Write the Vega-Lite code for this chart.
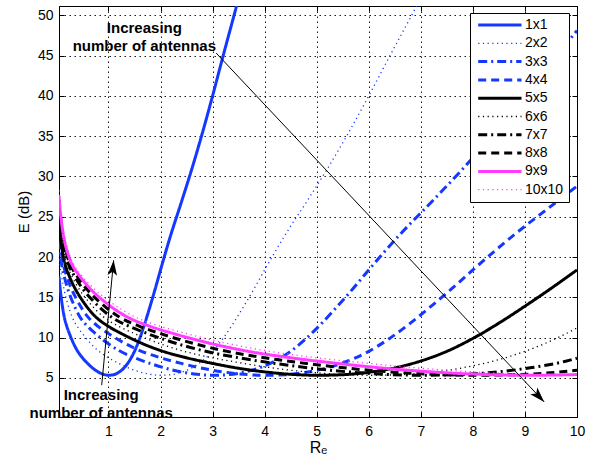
{
  "$schema": "https://vega.github.io/schema/vega-lite/v6.json",
  "width": 518,
  "height": 411,
  "autosize": {"type": "none"},
  "padding": {"left": 59, "top": 6, "right": 21, "bottom": 45},
  "background": "white",
  "config": {
    "font": "Liberation Sans",
    "view": {"stroke": "black", "strokeWidth": 1},
    "axis": {
      "labelFont": "Liberation Sans",
      "labelFontSize": 14,
      "labelColor": "black",
      "titleFont": "Liberation Sans",
      "titleColor": "black",
      "titleFontWeight": "normal",
      "tickColor": "black",
      "domainColor": "black",
      "labelFlush": false,
      "labelOverlap": false,
      "grid": true,
      "gridColor": "black",
      "gridDash": [1.5, 3.5],
      "gridOpacity": 0.9,
      "gridWidth": 1
    }
  },
  "datasets": {
    "curves": [
      {"series": "1x1", "R": 0.05, "E": 17.6}, {"series": "1x1", "R": 0.075, "E": 15.9}, {"series": "1x1", "R": 0.1, "E": 14.6},
      {"series": "1x1", "R": 0.15, "E": 12.6}, {"series": "1x1", "R": 0.2, "E": 11.4}, {"series": "1x1", "R": 0.25, "E": 10.5},
      {"series": "1x1", "R": 0.3, "E": 9.7}, {"series": "1x1", "R": 0.4, "E": 8.4}, {"series": "1x1", "R": 0.5, "E": 7.5},
      {"series": "1x1", "R": 0.6, "E": 6.8}, {"series": "1x1", "R": 0.7, "E": 6.2}, {"series": "1x1", "R": 0.8, "E": 5.75},
      {"series": "1x1", "R": 0.9, "E": 5.45}, {"series": "1x1", "R": 1.0, "E": 5.33}, {"series": "1x1", "R": 1.1, "E": 5.4},
      {"series": "1x1", "R": 1.2, "E": 5.7}, {"series": "1x1", "R": 1.3, "E": 6.25}, {"series": "1x1", "R": 1.4, "E": 7.1},
      {"series": "1x1", "R": 1.5, "E": 8.3}, {"series": "1x1", "R": 1.6, "E": 9.9}, {"series": "1x1", "R": 1.7, "E": 11.8},
      {"series": "1x1", "R": 1.8, "E": 13.9}, {"series": "1x1", "R": 1.9, "E": 16.1}, {"series": "1x1", "R": 2.0, "E": 18.4},
      {"series": "1x1", "R": 2.2, "E": 22.8}, {"series": "1x1", "R": 2.4, "E": 26.8}, {"series": "1x1", "R": 2.6, "E": 30.9},
      {"series": "1x1", "R": 2.8, "E": 35.3}, {"series": "1x1", "R": 3.0, "E": 40.0}, {"series": "1x1", "R": 3.2, "E": 44.9},
      {"series": "1x1", "R": 3.4, "E": 49.7}, {"series": "1x1", "R": 3.5, "E": 52.1},

      {"series": "2x2", "R": 0.05, "E": 20.3}, {"series": "2x2", "R": 0.07, "E": 18.9}, {"series": "2x2", "R": 0.1, "E": 17.6},
      {"series": "2x2", "R": 0.15, "E": 15.9}, {"series": "2x2", "R": 0.2, "E": 14.6}, {"series": "2x2", "R": 0.3, "E": 12.6},
      {"series": "2x2", "R": 0.4, "E": 11.4}, {"series": "2x2", "R": 0.5, "E": 10.5}, {"series": "2x2", "R": 0.6, "E": 9.7},
      {"series": "2x2", "R": 0.8, "E": 8.4}, {"series": "2x2", "R": 1.0, "E": 7.5}, {"series": "2x2", "R": 1.2, "E": 6.8},
      {"series": "2x2", "R": 1.4, "E": 6.2}, {"series": "2x2", "R": 1.6, "E": 5.75}, {"series": "2x2", "R": 1.8, "E": 5.45},
      {"series": "2x2", "R": 2.0, "E": 5.33}, {"series": "2x2", "R": 2.2, "E": 5.4}, {"series": "2x2", "R": 2.4, "E": 5.7},
      {"series": "2x2", "R": 2.6, "E": 6.25}, {"series": "2x2", "R": 2.8, "E": 7.1}, {"series": "2x2", "R": 3.0, "E": 8.3},
      {"series": "2x2", "R": 3.2, "E": 9.9}, {"series": "2x2", "R": 3.4, "E": 11.8}, {"series": "2x2", "R": 3.6, "E": 13.9},
      {"series": "2x2", "R": 3.8, "E": 16.1}, {"series": "2x2", "R": 4.0, "E": 18.4}, {"series": "2x2", "R": 4.4, "E": 22.8},
      {"series": "2x2", "R": 4.8, "E": 26.8}, {"series": "2x2", "R": 5.2, "E": 30.9}, {"series": "2x2", "R": 5.6, "E": 35.3},
      {"series": "2x2", "R": 6.0, "E": 40.0}, {"series": "2x2", "R": 6.4, "E": 44.9}, {"series": "2x2", "R": 6.8, "E": 49.7},
      {"series": "2x2", "R": 7.0, "E": 52.1},

      {"series": "3x3", "R": 0.05, "E": 22.2}, {"series": "3x3", "R": 0.075, "E": 20.3}, {"series": "3x3", "R": 0.105, "E": 18.9},
      {"series": "3x3", "R": 0.15, "E": 17.6}, {"series": "3x3", "R": 0.225, "E": 15.9}, {"series": "3x3", "R": 0.3, "E": 14.6},
      {"series": "3x3", "R": 0.45, "E": 12.6}, {"series": "3x3", "R": 0.6, "E": 11.4}, {"series": "3x3", "R": 0.75, "E": 10.5},
      {"series": "3x3", "R": 0.9, "E": 9.7}, {"series": "3x3", "R": 1.2, "E": 8.4}, {"series": "3x3", "R": 1.5, "E": 7.5},
      {"series": "3x3", "R": 1.8, "E": 6.8}, {"series": "3x3", "R": 2.1, "E": 6.2}, {"series": "3x3", "R": 2.4, "E": 5.75},
      {"series": "3x3", "R": 2.7, "E": 5.45}, {"series": "3x3", "R": 3.0, "E": 5.33}, {"series": "3x3", "R": 3.3, "E": 5.4},
      {"series": "3x3", "R": 3.6, "E": 5.7}, {"series": "3x3", "R": 3.9, "E": 6.25}, {"series": "3x3", "R": 4.2, "E": 7.1},
      {"series": "3x3", "R": 4.5, "E": 8.3}, {"series": "3x3", "R": 4.8, "E": 9.9}, {"series": "3x3", "R": 5.1, "E": 11.8},
      {"series": "3x3", "R": 5.4, "E": 13.9}, {"series": "3x3", "R": 5.7, "E": 16.1}, {"series": "3x3", "R": 6.0, "E": 18.4},
      {"series": "3x3", "R": 6.6, "E": 22.8}, {"series": "3x3", "R": 7.2, "E": 26.8}, {"series": "3x3", "R": 7.8, "E": 30.9},
      {"series": "3x3", "R": 8.4, "E": 35.3}, {"series": "3x3", "R": 9.0, "E": 40.0}, {"series": "3x3", "R": 9.6, "E": 44.9},
      {"series": "3x3", "R": 10.0, "E": 48.1},

      {"series": "4x4", "R": 0.05, "E": 23.6}, {"series": "4x4", "R": 0.067, "E": 22.2}, {"series": "4x4", "R": 0.1, "E": 20.3},
      {"series": "4x4", "R": 0.14, "E": 18.9}, {"series": "4x4", "R": 0.2, "E": 17.6}, {"series": "4x4", "R": 0.3, "E": 15.9},
      {"series": "4x4", "R": 0.4, "E": 14.6}, {"series": "4x4", "R": 0.6, "E": 12.6}, {"series": "4x4", "R": 0.8, "E": 11.4},
      {"series": "4x4", "R": 1.0, "E": 10.5}, {"series": "4x4", "R": 1.2, "E": 9.7}, {"series": "4x4", "R": 1.6, "E": 8.4},
      {"series": "4x4", "R": 2.0, "E": 7.5}, {"series": "4x4", "R": 2.4, "E": 6.8}, {"series": "4x4", "R": 2.8, "E": 6.2},
      {"series": "4x4", "R": 3.2, "E": 5.75}, {"series": "4x4", "R": 3.6, "E": 5.45}, {"series": "4x4", "R": 4.0, "E": 5.33},
      {"series": "4x4", "R": 4.4, "E": 5.4}, {"series": "4x4", "R": 4.8, "E": 5.7}, {"series": "4x4", "R": 5.2, "E": 6.25},
      {"series": "4x4", "R": 5.6, "E": 7.1}, {"series": "4x4", "R": 6.0, "E": 8.3}, {"series": "4x4", "R": 6.4, "E": 9.9},
      {"series": "4x4", "R": 6.8, "E": 11.8}, {"series": "4x4", "R": 7.2, "E": 13.9}, {"series": "4x4", "R": 7.6, "E": 16.1},
      {"series": "4x4", "R": 8.0, "E": 18.4}, {"series": "4x4", "R": 8.8, "E": 22.8}, {"series": "4x4", "R": 9.6, "E": 26.8},
      {"series": "4x4", "R": 10.0, "E": 28.8},

      {"series": "5x5", "R": 0.05, "E": 24.8}, {"series": "5x5", "R": 0.0625, "E": 23.6}, {"series": "5x5", "R": 0.083, "E": 22.2},
      {"series": "5x5", "R": 0.125, "E": 20.3}, {"series": "5x5", "R": 0.175, "E": 18.9}, {"series": "5x5", "R": 0.25, "E": 17.6},
      {"series": "5x5", "R": 0.375, "E": 15.9}, {"series": "5x5", "R": 0.5, "E": 14.6}, {"series": "5x5", "R": 0.75, "E": 12.6},
      {"series": "5x5", "R": 1.0, "E": 11.4}, {"series": "5x5", "R": 1.25, "E": 10.5}, {"series": "5x5", "R": 1.5, "E": 9.7},
      {"series": "5x5", "R": 2.0, "E": 8.4}, {"series": "5x5", "R": 2.5, "E": 7.5}, {"series": "5x5", "R": 3.0, "E": 6.8},
      {"series": "5x5", "R": 3.5, "E": 6.2}, {"series": "5x5", "R": 4.0, "E": 5.75}, {"series": "5x5", "R": 4.5, "E": 5.45},
      {"series": "5x5", "R": 5.0, "E": 5.33}, {"series": "5x5", "R": 5.5, "E": 5.4}, {"series": "5x5", "R": 6.0, "E": 5.7},
      {"series": "5x5", "R": 6.5, "E": 6.25}, {"series": "5x5", "R": 7.0, "E": 7.1}, {"series": "5x5", "R": 7.5, "E": 8.3},
      {"series": "5x5", "R": 8.0, "E": 9.9}, {"series": "5x5", "R": 8.5, "E": 11.8}, {"series": "5x5", "R": 9.0, "E": 13.9},
      {"series": "5x5", "R": 9.5, "E": 16.1}, {"series": "5x5", "R": 10.0, "E": 18.4},

      {"series": "6x6", "R": 0.05, "E": 25.6}, {"series": "6x6", "R": 0.06, "E": 24.8}, {"series": "6x6", "R": 0.075, "E": 23.6},
      {"series": "6x6", "R": 0.1, "E": 22.2}, {"series": "6x6", "R": 0.15, "E": 20.3}, {"series": "6x6", "R": 0.21, "E": 18.9},
      {"series": "6x6", "R": 0.3, "E": 17.6}, {"series": "6x6", "R": 0.45, "E": 15.9}, {"series": "6x6", "R": 0.6, "E": 14.6},
      {"series": "6x6", "R": 0.9, "E": 12.6}, {"series": "6x6", "R": 1.2, "E": 11.4}, {"series": "6x6", "R": 1.5, "E": 10.5},
      {"series": "6x6", "R": 1.8, "E": 9.7}, {"series": "6x6", "R": 2.4, "E": 8.4}, {"series": "6x6", "R": 3.0, "E": 7.5},
      {"series": "6x6", "R": 3.6, "E": 6.8}, {"series": "6x6", "R": 4.2, "E": 6.2}, {"series": "6x6", "R": 4.8, "E": 5.75},
      {"series": "6x6", "R": 5.4, "E": 5.45}, {"series": "6x6", "R": 6.0, "E": 5.33}, {"series": "6x6", "R": 6.6, "E": 5.4},
      {"series": "6x6", "R": 7.2, "E": 5.7}, {"series": "6x6", "R": 7.8, "E": 6.25}, {"series": "6x6", "R": 8.4, "E": 7.1},
      {"series": "6x6", "R": 9.0, "E": 8.3}, {"series": "6x6", "R": 9.6, "E": 9.9}, {"series": "6x6", "R": 10.0, "E": 11.2},

      {"series": "7x7", "R": 0.05, "E": 26.4}, {"series": "7x7", "R": 0.058, "E": 25.6}, {"series": "7x7", "R": 0.07, "E": 24.8},
      {"series": "7x7", "R": 0.0875, "E": 23.6}, {"series": "7x7", "R": 0.117, "E": 22.2}, {"series": "7x7", "R": 0.175, "E": 20.3},
      {"series": "7x7", "R": 0.245, "E": 18.9}, {"series": "7x7", "R": 0.35, "E": 17.6}, {"series": "7x7", "R": 0.525, "E": 15.9},
      {"series": "7x7", "R": 0.7, "E": 14.6}, {"series": "7x7", "R": 1.05, "E": 12.6}, {"series": "7x7", "R": 1.4, "E": 11.4},
      {"series": "7x7", "R": 1.75, "E": 10.5}, {"series": "7x7", "R": 2.1, "E": 9.7}, {"series": "7x7", "R": 2.8, "E": 8.4},
      {"series": "7x7", "R": 3.5, "E": 7.5}, {"series": "7x7", "R": 4.2, "E": 6.8}, {"series": "7x7", "R": 4.9, "E": 6.2},
      {"series": "7x7", "R": 5.6, "E": 5.75}, {"series": "7x7", "R": 6.3, "E": 5.45}, {"series": "7x7", "R": 7.0, "E": 5.33},
      {"series": "7x7", "R": 7.7, "E": 5.4}, {"series": "7x7", "R": 8.4, "E": 5.7}, {"series": "7x7", "R": 9.1, "E": 6.25},
      {"series": "7x7", "R": 9.8, "E": 7.1}, {"series": "7x7", "R": 10.0, "E": 7.45},

      {"series": "8x8", "R": 0.05, "E": 27.0}, {"series": "8x8", "R": 0.057, "E": 26.4}, {"series": "8x8", "R": 0.066, "E": 25.6},
      {"series": "8x8", "R": 0.08, "E": 24.8}, {"series": "8x8", "R": 0.1, "E": 23.6}, {"series": "8x8", "R": 0.134, "E": 22.2},
      {"series": "8x8", "R": 0.2, "E": 20.3}, {"series": "8x8", "R": 0.28, "E": 18.9}, {"series": "8x8", "R": 0.4, "E": 17.6},
      {"series": "8x8", "R": 0.6, "E": 15.9}, {"series": "8x8", "R": 0.8, "E": 14.6}, {"series": "8x8", "R": 1.2, "E": 12.6},
      {"series": "8x8", "R": 1.6, "E": 11.4}, {"series": "8x8", "R": 2.0, "E": 10.5}, {"series": "8x8", "R": 2.4, "E": 9.7},
      {"series": "8x8", "R": 3.2, "E": 8.4}, {"series": "8x8", "R": 4.0, "E": 7.5}, {"series": "8x8", "R": 4.8, "E": 6.8},
      {"series": "8x8", "R": 5.6, "E": 6.2}, {"series": "8x8", "R": 6.4, "E": 5.75}, {"series": "8x8", "R": 7.2, "E": 5.45},
      {"series": "8x8", "R": 8.0, "E": 5.33}, {"series": "8x8", "R": 8.8, "E": 5.4}, {"series": "8x8", "R": 9.6, "E": 5.7},
      {"series": "8x8", "R": 10.0, "E": 5.95},

      {"series": "9x9", "R": 0.05, "E": 27.6}, {"series": "9x9", "R": 0.056, "E": 27.0}, {"series": "9x9", "R": 0.064, "E": 26.4},
      {"series": "9x9", "R": 0.075, "E": 25.6}, {"series": "9x9", "R": 0.09, "E": 24.8}, {"series": "9x9", "R": 0.1125, "E": 23.6},
      {"series": "9x9", "R": 0.15, "E": 22.2}, {"series": "9x9", "R": 0.225, "E": 20.3}, {"series": "9x9", "R": 0.315, "E": 18.9},
      {"series": "9x9", "R": 0.45, "E": 17.6}, {"series": "9x9", "R": 0.675, "E": 15.9}, {"series": "9x9", "R": 0.9, "E": 14.6},
      {"series": "9x9", "R": 1.35, "E": 12.6}, {"series": "9x9", "R": 1.8, "E": 11.4}, {"series": "9x9", "R": 2.25, "E": 10.5},
      {"series": "9x9", "R": 2.7, "E": 9.7}, {"series": "9x9", "R": 3.6, "E": 8.4}, {"series": "9x9", "R": 4.5, "E": 7.5},
      {"series": "9x9", "R": 5.4, "E": 6.8}, {"series": "9x9", "R": 6.3, "E": 6.2}, {"series": "9x9", "R": 7.2, "E": 5.75},
      {"series": "9x9", "R": 8.1, "E": 5.45}, {"series": "9x9", "R": 9.0, "E": 5.33}, {"series": "9x9", "R": 9.9, "E": 5.4},
      {"series": "9x9", "R": 10.0, "E": 5.42},

      {"series": "10x10", "R": 0.05, "E": 28.3}, {"series": "10x10", "R": 0.056, "E": 27.6}, {"series": "10x10", "R": 0.0625, "E": 27.0},
      {"series": "10x10", "R": 0.071, "E": 26.4}, {"series": "10x10", "R": 0.083, "E": 25.6}, {"series": "10x10", "R": 0.1, "E": 24.8},
      {"series": "10x10", "R": 0.125, "E": 23.6}, {"series": "10x10", "R": 0.167, "E": 22.2}, {"series": "10x10", "R": 0.25, "E": 20.3},
      {"series": "10x10", "R": 0.35, "E": 18.9}, {"series": "10x10", "R": 0.5, "E": 17.6}, {"series": "10x10", "R": 0.75, "E": 15.9},
      {"series": "10x10", "R": 1.0, "E": 14.6}, {"series": "10x10", "R": 1.5, "E": 12.6}, {"series": "10x10", "R": 2.0, "E": 11.4},
      {"series": "10x10", "R": 2.5, "E": 10.5}, {"series": "10x10", "R": 3.0, "E": 9.7}, {"series": "10x10", "R": 4.0, "E": 8.4},
      {"series": "10x10", "R": 5.0, "E": 7.5}, {"series": "10x10", "R": 6.0, "E": 6.8}, {"series": "10x10", "R": 7.0, "E": 6.2},
      {"series": "10x10", "R": 8.0, "E": 5.75}, {"series": "10x10", "R": 9.0, "E": 5.45}, {"series": "10x10", "R": 10.0, "E": 5.33}
    ],
    "arrows": [
      {"id": "down", "x0": 3.07, "y0": 45.3, "x1": 9.37, "y1": 2.02},
      {"id": "up", "x0": 0.87, "y0": 4.1, "x1": 1.1, "y1": 19.6}
    ],
    "notes": [
      {"x": 1.69, "y": 48.39, "label": "Increasing\nnumber of antennas"},
      {"x": 0.86, "y": 2.94, "label": "Increasing\nnumber of antennas"}
    ]
  },
  "layer": [
    {
      "data": {"name": "curves"},
      "mark": {"type": "line", "clip": true, "interpolate": "monotone", "strokeCap": "butt", "strokeJoin": "round"},
      "encoding": {
        "x": {
          "field": "R", "type": "quantitative", "title": "Rₑ",
          "scale": {"domain": [0.05, 10], "nice": false, "zero": false},
          "axis": {
            "orient": "bottom", "values": [1, 2, 3, 4, 5, 6, 7, 8, 9, 10],
            "titleFontSize": 16, "titlePadding": 1,
            "grid": true, "tickSize": -5, "labelPadding": 12, "domain": true
          }
        },
        "y": {
          "field": "E", "type": "quantitative", "title": "E (dB)",
          "scale": {"domain": [0.15, 51.15], "nice": false, "zero": false},
          "axis": {
            "orient": "left", "values": [5, 10, 15, 20, 25, 30, 35, 40, 45, 50],
            "titleFontSize": 15, "titlePadding": 6,
            "grid": true, "tickSize": -5, "labelPadding": 11, "domain": true
          }
        },
        "color": {
          "field": "series", "type": "ordinal",
          "scale": {
            "type": "ordinal",
            "domain": ["1x1", "2x2", "3x3", "4x4", "5x5", "6x6", "7x7", "8x8", "9x9", "10x10"],
            "range": ["#1438ff", "#1438ff", "#1438ff", "#1438ff", "#000000", "#000000", "#000000", "#000000", "#ff3cff", "#ff3cff"]
          },
          "legend": {
            "title": null, "orient": "none", "legendX": 411, "legendY": 7,
            "symbolType": "M-0.76,0H7.9", "symbolSize": 100,
            "labelFont": "Liberation Sans", "labelFontSize": 14, "labelColor": "black", "labelOffset": 36,
            "padding": 5, "rowPadding": 4.3, "fillColor": "white", "strokeColor": "black"
          }
        },
        "strokeDash": {
          "field": "series", "type": "ordinal",
          "scale": {
            "type": "ordinal",
            "domain": ["1x1", "2x2", "3x3", "4x4", "5x5", "6x6", "7x7", "8x8", "9x9", "10x10"],
            "range": [[1, 0], [1.2, 3.5], [9, 4, 2, 4], [8, 5], [1, 0], [1.2, 3.5], [9, 4, 2, 4], [8, 5], [1, 0], [1.2, 3.5]]
          },
          "legend": {
            "title": null, "orient": "none", "legendX": 411, "legendY": 7,
            "symbolType": "M-0.76,0H7.9", "symbolSize": 100,
            "labelFont": "Liberation Sans", "labelFontSize": 14, "labelColor": "black", "labelOffset": 36,
            "padding": 5, "rowPadding": 4.3, "fillColor": "white", "strokeColor": "black"
          }
        },
        "strokeWidth": {
          "field": "series", "type": "ordinal",
          "scale": {
            "type": "ordinal",
            "domain": ["1x1", "2x2", "3x3", "4x4", "5x5", "6x6", "7x7", "8x8", "9x9", "10x10"],
            "range": [3, 1.3, 3, 3, 3, 1.3, 3, 3, 3, 1.3]
          },
          "legend": {
            "title": null, "orient": "none", "legendX": 411, "legendY": 7,
            "symbolType": "M-0.76,0H7.9", "symbolSize": 100,
            "labelFont": "Liberation Sans", "labelFontSize": 14, "labelColor": "black", "labelOffset": 36,
            "padding": 5, "rowPadding": 4.3, "fillColor": "white", "strokeColor": "black"
          }
        }
      }
    },
    {
      "data": {"name": "arrows"},
      "mark": {"type": "rule", "color": "black", "strokeWidth": 1},
      "encoding": {
        "x": {
          "field": "x0", "type": "quantitative", "title": null,
          "scale": {"domain": [0.05, 10], "nice": false, "zero": false},
          "axis": {"orient": "top", "values": [1, 2, 3, 4, 5, 6, 7, 8, 9, 10], "labels": false, "grid": false, "tickSize": -5, "domain": true}
        },
        "y": {
          "field": "y0", "type": "quantitative", "title": null,
          "scale": {"domain": [0.15, 51.15], "nice": false, "zero": false},
          "axis": {"orient": "right", "values": [5, 10, 15, 20, 25, 30, 35, 40, 45, 50], "labels": false, "grid": false, "tickSize": -5, "domain": true}
        },
        "x2": {"field": "x1"},
        "y2": {"field": "y1"}
      }
    },
    {
      "data": {"name": "arrows"},
      "transform": [{"filter": "datum.id == 'down'"}],
      "mark": {"type": "point", "shape": "M0,0L-0.6,1.9L0,1.45L0.6,1.9Z", "filled": true, "color": "black", "opacity": 1, "size": 256, "angle": 136.8},
      "encoding": {
        "x": {"field": "x1", "type": "quantitative", "scale": {"domain": [0.05, 10], "nice": false, "zero": false}, "axis": null},
        "y": {"field": "y1", "type": "quantitative", "scale": {"domain": [0.15, 51.15], "nice": false, "zero": false}, "axis": null}
      }
    },
    {
      "data": {"name": "arrows"},
      "transform": [{"filter": "datum.id == 'up'"}],
      "mark": {"type": "point", "shape": "M0,0L-0.6,1.9L0,1.45L0.6,1.9Z", "filled": true, "color": "black", "opacity": 1, "size": 256, "angle": 5.3},
      "encoding": {
        "x": {"field": "x1", "type": "quantitative", "scale": {"domain": [0.05, 10], "nice": false, "zero": false}, "axis": null},
        "y": {"field": "y1", "type": "quantitative", "scale": {"domain": [0.15, 51.15], "nice": false, "zero": false}, "axis": null}
      }
    },
    {
      "data": {"name": "notes"},
      "mark": {"type": "text", "font": "Liberation Sans", "fontWeight": "bold", "fontSize": 15, "lineBreak": "\n", "lineHeight": 18, "align": "center", "baseline": "middle", "color": "black"},
      "encoding": {
        "x": {"field": "x", "type": "quantitative", "scale": {"domain": [0.05, 10], "nice": false, "zero": false}, "axis": null},
        "y": {"field": "y", "type": "quantitative", "scale": {"domain": [0.15, 51.15], "nice": false, "zero": false}, "axis": null},
        "text": {"field": "label"}
      }
    }
  ],
  "resolve": {"axis": {"x": "independent", "y": "independent"}}
}
